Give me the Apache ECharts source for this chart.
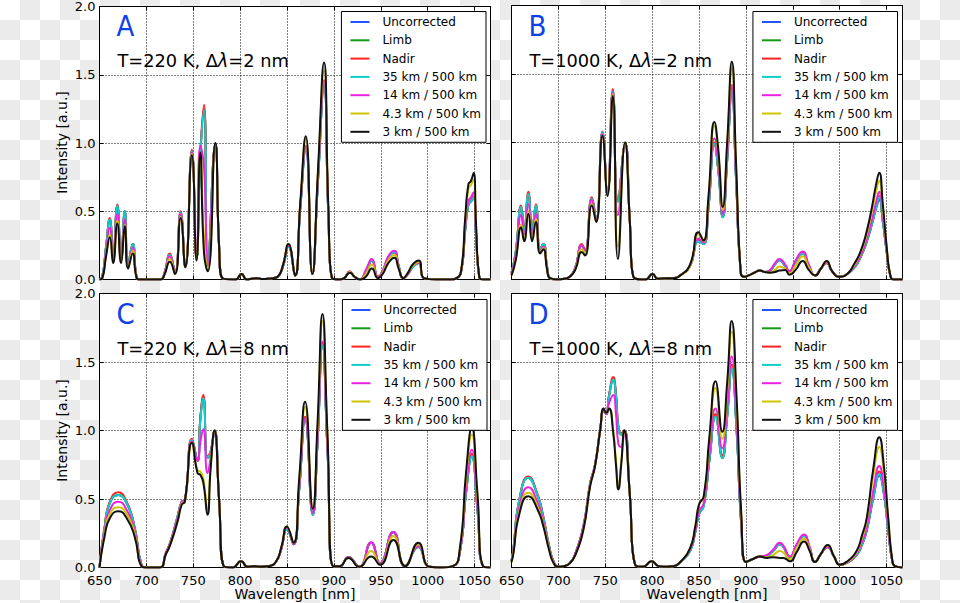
<!DOCTYPE html>
<html><head><meta charset="utf-8">
<script src="https://cdn.jsdelivr.net/npm/echarts/dist/echarts.min.js"></script>
<style>
html,body{margin:0;padding:0;width:960px;height:603px;overflow:hidden;
background-color:#fff;
background-image:conic-gradient(#ebebeb 0 25%, #fff 0 50%, #ebebeb 0 75%, #fff 0);
background-size:40px 40px;}
#c{width:960px;height:603px;}
</style></head><body><div id="c"></div>
<script>
const NAMES = ['Uncorrected','Limb','Nadir','35 km / 500 km','14 km / 500 km','4.3 km / 500 km','3 km / 500 km'];
const PANEL_LETTERS = ['A','B','C','D'];
const PANEL_TITLES = ['T=220 K, \u0394{i|\u03bb}=2 nm','T=1000 K, \u0394{i|\u03bb}=2 nm','T=220 K, \u0394{i|\u03bb}=8 nm','T=1000 K, \u0394{i|\u03bb}=8 nm'];
const X_LABEL = 'Wavelength [nm]';
const Y_LABEL = 'Intensity [a.u.]';

// ---------- Panel A : T=220 K, 2 nm ----------
const A_wl = [650,653,657,661,664.5,669,673,677,680.5,685.5,689,692,715,719,725,730.5,736.5,741.5,748.5,753.5,757.5,761.5,765.5,773.5,777.5,781,795,801.5,807,812,818,824,829,835,840,845.5,851.5,858.5,864,870,877,883,889.5,894,898,906,911,917,922,928,934,940.5,947,952,958,964.5,969,974,979,984,990.5,996,1010,1025,1031,1036,1040,1043.5,1046,1049,1051.5,1055,1060,1067];
const A_uncorrected = [0,.02,.24,.44,.17,.54,.16,.50,.11,.26,.04,0, 0,.04,.18,.05,.49,.09,.94,.16,.90,1.25,.12,.99,.25,.01, 0,.04,0,.005,.01,.003,.005,.01,.02,.09,.24,.03,.51,.96,.04,.72,1.43,.49,.01, 0,.01,.055,.02,0,.06,.14,.02,.06,.16,.20,.10,.01,.04,.09,.12,.01, 0,0,.01,.07,.36,.55,.57,.60,.34,.02,0,0];
const A_limb = [0,.02,.24,.44,.17,.54,.16,.50,.11,.26,.04,0, 0,.04,.18,.05,.49,.09,.94,.16,.90,1.25,.12,.99,.25,.01, 0,.04,0,.005,.01,.003,.005,.01,.02,.09,.24,.03,.51,.96,.04,.72,1.43,.49,.01, 0,.01,.055,.02,0,.06,.14,.02,.06,.16,.20,.10,.01,.04,.09,.12,.01, 0,0,.01,.07,.36,.55,.57,.60,.34,.02,0,0];
const A_nadir = [0,.02,.24,.45,.17,.55,.16,.50,.11,.26,.04,0, 0,.04,.19,.05,.50,.09,.95,.16,.92,1.28,.12,.99,.25,.01, 0,.04,0,.005,.01,.003,.005,.01,.02,.10,.25,.03,.52,.98,.04,.74,1.46,.50,.01, 0,.01,.055,.02,0,.06,.14,.02,.06,.16,.20,.10,.01,.04,.10,.12,.01, 0,0,.01,.07,.37,.56,.58,.61,.35,.02,0,0];
const A_35km = [0,.02,.24,.44,.17,.54,.16,.50,.11,.26,.04,0, 0,.04,.18,.05,.49,.09,.94,.16,.90,1.24,.12,.99,.25,.01, 0,.04,0,.005,.01,.003,.005,.01,.02,.09,.24,.03,.51,.96,.04,.72,1.43,.49,.01, 0,.01,.055,.02,0,.06,.14,.02,.06,.16,.20,.10,.01,.04,.09,.12,.01, 0,0,.01,.07,.36,.55,.57,.60,.34,.02,0,0];
const A_14km = [0,.01,.21,.38,.15,.48,.14,.44,.10,.23,.04,0, 0,.04,.17,.05,.48,.09,.93,.15,.98,.82,.10,.99,.25,.01, 0,.04,0,.005,.01,.003,.005,.01,.02,.10,.25,.03,.52,.98,.04,.74,1.45,.50,.01, 0,.01,.06,.02,0,.07,.15,.02,.06,.17,.21,.10,.01,.04,.10,.12,.01, 0,0,.01,.07,.38,.58,.60,.64,.36,.02,0,0];
const A_4km = [0,.01,.18,.33,.13,.43,.13,.40,.09,.21,.04,0, 0,.03,.15,.04,.46,.09,.92,.14,.93,.31,.07,.99,.25,.01, 0,.04,0,.005,.01,.003,.005,.01,.02,.10,.26,.03,.54,1.03,.04,.78,1.53,.52,.01, 0,.01,.055,.02,0,.04,.11,.01,.05,.14,.18,.09,.01,.05,.10,.13,.01, 0,0,.01,.08,.42,.67,.69,.73,.40,.02,0,0];
const A_3km = [0,.01,.17,.31,.12,.41,.12,.39,.08,.19,.03,0, 0,.03,.13,.04,.45,.09,.91,.14,.93,.19,.06,1.0,.25,.01, 0,.04,0,.005,.01,.003,.005,.01,.02,.10,.26,.03,.55,1.05,.04,.80,1.59,.55,.01, 0,.01,.05,.02,0,.02,.08,.01,.04,.12,.16,.08,.01,.05,.11,.14,.01, 0,0,.01,.08,.45,.70,.72,.78,.42,.02,0,0];

// ---------- Panel B : T=1000 K, 2 nm ----------
const B_wl = [650,654.5,660.3,663.5,668,672,676,680.5,684,688,691,700,706,712,718,725,728.5,735.7,740.3,747,752.3,758,763.5,771.2,776,780,793,800.5,806,815,822,830,840.5,849.3,854.7,860,866.4,870.5,875.3,880,885,889.5,894.5,898,903,909,915,920,925.8,931,935.7,941.8,946.4,953,960.6,967,973.8,980,986.2,992,999.7,1008,1016,1022,1028,1034.2,1039,1042.2,1046,1050,1054,1058,1067];
const B_uncorrected = [.05,.20,.53,.36,.625,.36,.54,.22,.26,.09,.01, 0,.005,.02,.085, .25,.21,.59,.44,1.075,.63,1.37,.57,.99,.45,.02, 0,.04,.005,.01,.01,.03, .10,.28,.26,.52,.99,.80,.455,.87,1.37,.73,.05,.02, .03,.05,.065,.055,.065,.11,.14,.10,.055,.13,.19,.10,.03,.08,.12,.06,.02, .04,.09,.16,.26,.40,.52,.58,.42,.21,.03,0,0];
const B_limb = [.05,.20,.53,.36,.625,.36,.54,.22,.26,.09,.01, 0,.005,.02,.085, .25,.21,.59,.44,1.075,.63,1.37,.57,.99,.45,.02, 0,.04,.005,.01,.01,.03, .10,.28,.26,.52,.99,.80,.455,.87,1.37,.73,.05,.02, .03,.05,.065,.055,.065,.11,.14,.10,.055,.13,.19,.10,.03,.08,.12,.06,.02, .04,.09,.16,.26,.40,.53,.59,.43,.21,.03,0,0];
const B_nadir = [.05,.20,.54,.37,.64,.36,.55,.22,.26,.09,.01, 0,.005,.02,.085, .26,.21,.60,.44,1.08,.64,1.39,.58,.99,.45,.02, 0,.04,.005,.01,.01,.03, .10,.29,.27,.53,1.0,.81,.46,.88,1.40,.74,.05,.02, .03,.05,.065,.055,.065,.11,.14,.10,.055,.13,.20,.10,.03,.08,.12,.06,.02, .04,.09,.16,.26,.40,.54,.61,.44,.21,.03,0,0];
const B_35km = [.05,.20,.53,.36,.625,.36,.54,.22,.26,.09,.01, 0,.005,.02,.085, .25,.21,.59,.44,1.075,.63,1.37,.57,.99,.45,.02, 0,.04,.005,.01,.01,.03, .10,.28,.26,.52,.99,.80,.455,.87,1.37,.73,.05,.02, .03,.05,.065,.055,.065,.11,.14,.10,.055,.13,.19,.10,.03,.08,.12,.06,.02, .04,.09,.16,.26,.40,.53,.60,.43,.21,.03,0,0];
const B_14km = [.04,.18,.47,.33,.55,.33,.48,.21,.24,.08,.01, 0,.005,.02,.085, .25,.21,.58,.43,1.06,.63,1.36,.47,.99,.45,.02, 0,.04,.005,.01,.01,.03, .10,.30,.27,.55,1.03,.85,.48,.90,1.42,.76,.05,.02, .03,.05,.065,.055,.07,.12,.15,.11,.06,.14,.205,.11,.03,.08,.12,.06,.02, .04,.10,.17,.28,.43,.57,.64,.46,.22,.03,0,0];
const B_4km = [.03,.15,.40,.30,.50,.30,.44,.20,.23,.08,.01, 0,.005,.02,.075, .22,.19,.55,.42,1.05,.62,1.35,.24,1.0,.45,.02, 0,.04,.005,.01,.01,.03, .10,.33,.28,.58,1.12,.92,.51,.97,1.54,.82,.05,.02, .03,.05,.065,.055,.05,.07,.095,.08,.045,.10,.17,.09,.03,.08,.13,.06,.02, .04,.11,.19,.31,.49,.65,.72,.51,.24,.03,0,0];
const B_3km = [.03,.14,.38,.28,.48,.28,.42,.19,.22,.07,.01, 0,.005,.02,.07, .20,.175,.54,.42,1.05,.61,1.34,.15,1.0,.45,.02, 0,.04,.005,.01,.01,.03, .11,.345,.285,.6,1.15,.95,.53,1.0,1.59,.85,.05,.02, .03,.05,.065,.055,.05,.055,.065,.07,.035,.07,.135,.07,.03,.08,.135,.06,.02, .04,.12,.2,.33,.52,.70,.78,.55,.25,.03,0,0];

// ---------- Panel C : T=220 K, 8 nm ----------
const C_wl = [650,655.5,661,670,679,687.7,694.8,700,714,721,725.4,733.2,737.8,741,748.6,754.5,757.6,760.7,765.2,768.5,772.6,777.5,782.5,792,801,808,815,822,830,838,844,849.8,856.9,863,869.3,877.5,882.5,887.8,893,899.5,906,915.5,927,939.7,949.2,963.4,975.9,990,1002,1015,1027,1034.5,1041,1047,1053,1059,1067];
const C_uncorrected = [0,.29,.47,.53,.47,.28,.02, 0,0, .11,.18,.37,.48,.49,.93,.78,1.09,1.24,.80,.84,1.0,.5,.01, 0,.045,.005,.01,.005,.01,.04, .14,.28,.17,.57,1.08,.385,.91,1.62,.88,.01, .01,.075,.005,.18,.03,.26,.01,.15,.005, 0,.01,.12,.55,.81,.43,.01,0];
const C_limb = [0,.29,.47,.53,.47,.28,.02, 0,0, .11,.18,.37,.48,.49,.93,.78,1.09,1.24,.80,.84,1.0,.5,.01, 0,.045,.005,.01,.005,.01,.04, .14,.28,.17,.57,1.08,.385,.91,1.62,.88,.01, .01,.075,.005,.18,.03,.26,.01,.15,.005, 0,.01,.12,.55,.81,.43,.01,0];
const C_nadir = [0,.30,.48,.55,.48,.29,.02, 0,0, .11,.18,.37,.48,.49,.94,.78,1.10,1.26,.81,.85,1.0,.5,.01, 0,.045,.005,.01,.005,.01,.04, .14,.29,.17,.58,1.10,.39,.92,1.64,.89,.01, .01,.075,.005,.18,.03,.26,.01,.155,.005, 0,.01,.12,.56,.83,.44,.01,0];
const C_35km = [0,.29,.47,.53,.47,.28,.02, 0,0, .11,.18,.37,.48,.49,.93,.78,1.08,1.235,.80,.84,1.0,.5,.01, 0,.045,.005,.01,.005,.01,.04, .14,.28,.17,.57,1.08,.385,.91,1.62,.88,.01, .01,.075,.005,.18,.03,.26,.01,.15,.005, 0,.01,.12,.55,.81,.43,.01,0];
const C_14km = [0,.27,.42,.48,.42,.26,.015, 0,0, .11,.18,.36,.48,.49,.92,.78,.92,1.01,.69,.80,1.0,.5,.01, 0,.045,.005,.01,.005,.01,.04, .14,.29,.17,.58,1.09,.40,.93,1.65,.9,.01, .01,.075,.005,.185,.03,.26,.01,.155,.005, 0,.01,.12,.58,.86,.45,.01,0];
const C_4km = [0,.25,.39,.44,.39,.24,.01, 0,0, .10,.17,.34,.47,.48,.91,.71,.70,.65,.42,.74,1.0,.5,.01, 0,.045,.005,.01,.005,.01,.04, .15,.30,.18,.62,1.17,.44,1.0,1.80,.97,.01, .01,.07,.005,.12,.02,.23,.01,.17,.005, 0,.01,.14,.66,.97,.51,.01,0];
const C_3km = [0,.23,.36,.41,.36,.22,.01, 0,0, .10,.165,.335,.46,.48,.91,.69,.675,.62,.385,.72,1.0,.5,.01, 0,.045,.005,.01,.005,.01,.04, .15,.30,.18,.65,1.21,.43,1.05,1.85,1.0,.01, .01,.07,.005,.08,.02,.20,.01,.18,.005, 0,.01,.15,.7,1.02,.55,.01,0];

// ---------- Panel D : T=1000 K, 8 nm ----------
const D_wl = [650,652,658,668,678,684,690,695,700,706,712,718,726.7,733.8,739.1,744.5,748.3,751,754,758.5,761.3,764,767,770.3,776,781.8,790,799.6,807,815,823,830,840.4,846,850,855,861,867.6,874.8,880,884.8,890,895,900,907,915,922,929,936.3,940,947,954,962,968,973.6,980,987.2,994,1000.3,1009,1018,1024,1028.8,1035.8,1042.2,1047,1051.8,1056,1059,1067];
const D_uncorrected = [.05,.13,.48,.655,.52,.36,.16,.04, .005,.01,.03,.10, .30,.61,.75,1.0,1.14,1.12,1.25,1.37,1.26,1.02,.97,1.0,.55,.02, .005,.045,.01,.005,.01,.04, .12,.26,.39,.45,.78,1.10,.80,1.10,1.45,1.01,.32, .04,.06,.08,.085,.12,.17,.15,.075,.16,.23,.14,.04,.10,.15,.08,.02, .04,.09,.17,.27,.50,.67,.54,.27,.05,.01,0];
const D_limb = [.05,.13,.48,.655,.52,.36,.16,.04, .005,.01,.03,.10, .30,.61,.75,1.0,1.14,1.12,1.25,1.37,1.26,1.02,.97,1.0,.55,.02, .005,.045,.01,.005,.01,.04, .12,.26,.39,.45,.78,1.10,.80,1.10,1.45,1.01,.32, .04,.06,.08,.085,.12,.17,.15,.075,.16,.23,.14,.04,.10,.15,.08,.02, .04,.09,.17,.27,.51,.68,.55,.27,.05,.01,0];
const D_nadir = [.05,.13,.48,.665,.53,.37,.16,.04, .005,.01,.03,.10, .30,.61,.75,1.0,1.15,1.13,1.26,1.39,1.28,1.03,.98,1.0,.55,.02, .005,.045,.01,.005,.01,.04, .13,.26,.40,.46,.79,1.12,.82,1.12,1.48,1.03,.33, .04,.06,.08,.085,.12,.17,.15,.075,.16,.235,.14,.04,.10,.15,.08,.02, .04,.09,.17,.27,.52,.70,.56,.27,.05,.01,0];
const D_35km = [.05,.13,.48,.655,.52,.36,.16,.04, .005,.01,.03,.10, .30,.61,.75,1.0,1.14,1.12,1.25,1.37,1.26,1.02,.97,1.0,.55,.02, .005,.045,.01,.005,.01,.04, .12,.26,.39,.45,.78,1.10,.80,1.10,1.45,1.01,.32, .04,.06,.08,.085,.12,.17,.15,.075,.16,.23,.14,.04,.10,.15,.08,.02, .04,.09,.17,.27,.51,.68,.55,.27,.05,.01,0];
const D_14km = [.05,.12,.43,.585,.47,.33,.15,.04, .005,.01,.03,.10, .30,.61,.75,1.0,1.15,1.12,1.20,1.26,1.13,.90,.88,1.0,.55,.02, .005,.045,.01,.005,.01,.04, .13,.27,.41,.47,.82,1.16,.87,1.17,1.54,1.07,.34, .04,.06,.08,.09,.13,.18,.16,.08,.17,.24,.15,.04,.10,.15,.08,.02, .04,.10,.19,.29,.56,.74,.59,.29,.05,.01,0];
const D_4km = [.04,.11,.40,.545,.44,.31,.14,.03, .005,.01,.03,.09, .28,.60,.74,1.0,1.16,1.13,1.16,1.0,.79,.60,.77,1.0,.55,.02, .005,.045,.01,.005,.01,.04, .14,.30,.46,.51,.92,1.31,.94,1.29,1.72,1.2,.38, .04,.06,.08,.075,.09,.12,.11,.06,.14,.21,.13,.04,.10,.16,.08,.02, .045,.11,.22,.34,.67,.88,.70,.34,.06,.01,0];
const D_3km = [.04,.10,.38,.52,.42,.30,.13,.03, .005,.01,.03,.09, .275,.59,.74,1.0,1.16,1.13,1.16,.98,.76,.57,.75,1.0,.55,.02, .005,.045,.01,.005,.01,.04, .14,.30,.46,.52,.95,1.36,.99,1.35,1.80,1.25,.40, .04,.06,.08,.07,.075,.07,.07,.045,.11,.19,.12,.04,.10,.165,.08,.02, .05,.12,.24,.36,.72,.95,.75,.36,.06,.01,0];

const PANELS = [
  {wl: A_wl, vals: [A_uncorrected, A_limb, A_nadir, A_35km, A_14km, A_4km, A_3km]},
  {wl: B_wl, vals: [B_uncorrected, B_limb, B_nadir, B_35km, B_14km, B_4km, B_3km]},
  {wl: C_wl, vals: [C_uncorrected, C_limb, C_nadir, C_35km, C_14km, C_4km, C_3km]},
  {wl: D_wl, vals: [D_uncorrected, D_limb, D_nadir, D_35km, D_14km, D_4km, D_3km]}
];

// ---------- styling / layout ----------
const COLORS = ['#2255ff','#169a16','#ff2222','#10cccc','#f020e0','#d0c400','#111111'];
const FONT = 'DejaVu Sans';
const X_MIN = 650, X_MAX = 1067, X_STEP = 50;
const Y_MIN = 0, Y_MAX = 2, Y_STEP = 0.5;
const PLOT_W = 391, PLOT_H = 274;
const LAYOUT = [
  {left: 99.5, top: 5.5, xLabels: false, yLabels: true, legendRight: 474},
  {left: 511.5, top: 5.5, xLabels: false, yLabels: false, legendRight: 62.5},
  {left: 99.5, top: 293.5, xLabels: true, yLabels: true, legendRight: 473},
  {left: 511.5, top: 293.5, xLabels: true, yLabels: false, legendRight: 62.5}
];
const GRID_LINE = {color: '#000', width: 1, type: [1, 2]};

const grids = [], xAxes = [], yAxes = [], series = [], legends = [], graphics = [];
LAYOUT.forEach((p, i) => {
  grids.push({left: p.left, top: p.top, width: PLOT_W, height: PLOT_H, show: true, backgroundColor: '#fff', borderWidth: 0});
  xAxes.push({type: 'value', gridIndex: i, min: X_MIN, max: X_MAX, interval: X_STEP, position: 'bottom',
    axisLine: {show: true, onZero: false, lineStyle: {color: '#000', width: 1}},
    axisTick: {show: true, inside: true, length: 4, lineStyle: {color: '#000'}},
    axisLabel: {show: p.xLabels, showMaxLabel: false, color: '#000', fontSize: 13, margin: 6, fontFamily: FONT, formatter: v => String(v)},
    splitLine: {show: true, lineStyle: GRID_LINE}});
  yAxes.push({type: 'value', gridIndex: i, min: Y_MIN, max: Y_MAX, interval: Y_STEP, position: 'left',
    axisLine: {show: true, onZero: false, lineStyle: {color: '#000', width: 1}},
    axisTick: {show: true, inside: true, length: 4, lineStyle: {color: '#000'}},
    axisLabel: {show: p.yLabels, color: '#000', fontSize: 13, margin: 4, fontFamily: FONT, formatter: v => v.toFixed(1)},
    splitLine: {show: true, lineStyle: GRID_LINE}});
});
LAYOUT.forEach((p, i) => {
  xAxes.push({type: 'value', gridIndex: i, min: X_MIN, max: X_MAX, interval: X_STEP, position: 'top',
    axisLine: {show: true, onZero: false, lineStyle: {color: '#000', width: 1}},
    axisTick: {show: true, inside: true, length: 4, lineStyle: {color: '#000'}},
    axisLabel: {show: false}, splitLine: {show: false}});
  yAxes.push({type: 'value', gridIndex: i, min: Y_MIN, max: Y_MAX, interval: Y_STEP, position: 'right',
    axisLine: {show: true, onZero: false, lineStyle: {color: '#000', width: 1}},
    axisTick: {show: true, inside: true, length: 4, lineStyle: {color: '#000'}},
    axisLabel: {show: false}, splitLine: {show: false}});
});
LAYOUT.forEach((p, i) => {
  const d = PANELS[i];
  d.vals.forEach((vals, s) => {
    series.push({type: 'line', name: NAMES[s], xAxisIndex: i, yAxisIndex: i,
      data: d.wl.map((w, k) => [w, vals[k]]),
      symbol: 'none', showSymbol: false, smooth: 0.55,
      lineStyle: {color: COLORS[s], width: 2}, itemStyle: {color: COLORS[s]},
      silent: true, animation: false, clip: true, z: 2});
  });
  legends.push({show: true, data: NAMES, orient: 'vertical', right: p.legendRight, top: p.top + 6,
    icon: 'rect', itemWidth: 19, itemHeight: 2, itemGap: 4.3, selectedMode: false,
    backgroundColor: '#fff', borderColor: '#000', borderWidth: 1, borderRadius: 0,
    padding: [3.5, 5, 3.5, 9],
    textStyle: {color: '#000', fontSize: 12, fontFamily: FONT, lineHeight: 14, padding: [0, 0, 0, 8]}, z: 10});
  graphics.push({type: 'text', x: p.left + 17, y: p.top + 20.5, scaleX: 0.9, z: 20,
    style: {text: PANEL_LETTERS[i], fontSize: 29, fill: '#1040e8', fontFamily: FONT, align: 'left', verticalAlign: 'middle'}});
  graphics.push({type: 'text', x: p.left + 18, y: p.top + 55, scaleX: 0.96, z: 20,
    style: {text: PANEL_TITLES[i], fontSize: 18.5, fill: '#000', fontFamily: FONT, align: 'left', verticalAlign: 'middle',
      rich: {i: {fontStyle: 'italic', fontSize: 18.5, fill: '#000', fontFamily: FONT}}}});
  if (p.yLabels) {
    graphics.push({type: 'text', x: 62, y: p.top + PLOT_H / 2, rotation: Math.PI / 2, z: 20,
      style: {text: Y_LABEL, fontSize: 14, fill: '#000', fontFamily: FONT, align: 'center', verticalAlign: 'middle'}});
  }
  if (p.xLabels) {
    graphics.push({type: 'text', x: p.left + PLOT_W / 2, y: 594, z: 20,
      style: {text: X_LABEL, fontSize: 14, fill: '#000', fontFamily: FONT, align: 'center', verticalAlign: 'middle'}});
  }
});

const chart = echarts.init(document.getElementById('c'), null, {renderer: 'svg'});
chart.setOption({
  animation: false,
  backgroundColor: 'transparent',
  grid: grids, xAxis: xAxes, yAxis: yAxes, series: series, legend: legends, graphic: graphics
});
</script></body></html>
